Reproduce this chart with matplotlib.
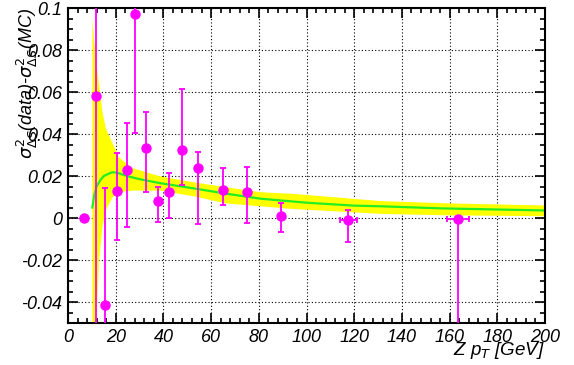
import matplotlib
matplotlib.use('Agg')
import matplotlib.pyplot as plt
import numpy as np
from matplotlib.ticker import MultipleLocator, FormatStrFormatter

plt.rcParams['font.family'] = 'Liberation Sans'
plt.rcParams['axes.unicode_minus'] = False

# measured points
pt_x = [6.5, 11.6, 15.7, 20.5, 24.7, 28.1, 32.6, 37.6, 42.5, 47.6, 54.7, 64.8, 74.9, 89.3, 117.6, 163.5]
pt_y = [0.0, 0.058, -0.0414, 0.013, 0.0229, 0.097, 0.0335, 0.0083, 0.0122, 0.0325, 0.0238, 0.0133, 0.0122, 0.001, -0.001, -0.0005]
err_lo = [0.0, 0.2, 0.1, 0.0235, 0.0273, 0.0564, 0.021, 0.0101, 0.0122, 0.0169, 0.0267, 0.007, 0.0144, 0.0075, 0.0103, 0.1]
err_hi = [0.0, 0.2, 0.0557, 0.018, 0.0225, 0.0564, 0.0171, 0.0066, 0.0091, 0.0291, 0.0078, 0.0107, 0.0119, 0.006, 0.0048, 0.0011]
xerr = [0, 0, 0, 0, 0, 0, 0, 0, 0, 0, 0, 0, 0, 0, 3.4, 4.7]

# fit curve
fit_x = [10.2, 11, 12, 13.5, 15, 18.4, 20.5, 24.7, 30, 38.7, 52.8, 66.8, 80.8, 100, 120, 131, 156.6, 200]
fit_y = [0.005, 0.011, 0.015, 0.018, 0.020, 0.0218, 0.0216, 0.020, 0.0185, 0.0166, 0.0141, 0.0115, 0.0092, 0.0073, 0.0059, 0.0056, 0.0046, 0.0036]

# uncertainty band
band_x = [10, 11.4, 12.8, 14.2, 15.6, 18.4, 21.2, 26.8, 38.7, 52.8, 66, 80.8, 93.5, 131, 160, 200]
band_hi = [0.095, 0.077, 0.064, 0.051, 0.043, 0.036, 0.029, 0.024, 0.020, 0.0172, 0.0149, 0.0125, 0.0118, 0.0083, 0.0072, 0.0062]
band_lo = [-0.06, -0.06, -0.02, -0.004, 0.0038, 0.010, 0.0125, 0.0133, 0.0133, 0.0105, 0.0072, 0.0058, 0.0046, 0.0022, 0.0015, 0.0011]

fig = plt.figure(figsize=(5.74, 3.65), dpi=100)
ax = fig.add_axes([0.1185, 0.115, 0.831, 0.863])

ax.fill_between(band_x, band_lo, band_hi, color='#ffff00', lw=0, zorder=1)
ax.plot(fit_x, fit_y, color='#22ee22', lw=1.6, zorder=2)
ax.errorbar(pt_x, pt_y, yerr=[err_lo, err_hi], xerr=xerr, fmt='o', color='#ff00ff',
            ms=6.5, elinewidth=1.3, capsize=2, capthick=1.3, zorder=3)

ax.set_xlim(0, 200)
ax.set_ylim(-0.05, 0.1)
ax.xaxis.set_major_locator(MultipleLocator(20))
ax.xaxis.set_minor_locator(MultipleLocator(4))
ax.yaxis.set_major_locator(MultipleLocator(0.02))
ax.yaxis.set_minor_locator(MultipleLocator(0.005))
ax.yaxis.set_major_formatter(FormatStrFormatter('%g'))
ax.grid(True, which='major', color='black', ls=(0, (1, 2)), lw=0.8)
ax.set_axisbelow(True)

ax.tick_params(which='both', direction='in', top=True, right=True, width=1.2)
ax.tick_params(which='major', length=7, labelsize=13, pad=4)
ax.tick_params(which='minor', length=3.5)
for lbl in ax.get_xticklabels() + ax.get_yticklabels():
    lbl.set_fontstyle('italic')
for s in ax.spines.values():
    s.set_linewidth(1.5)

fig.text(0.949, 0.04, r'Z p$_{T}$ [GeV]', ha='right', va='center', fontsize=13.5, style='italic')
fig.text(0.048, 0.978, r'$\sigma^{2}_{\Delta S}$(data)-$\sigma^{2}_{\Delta S}$(MC)', rotation=90,
         ha='center', va='top', fontsize=13, style='italic')

fig.savefig('out.png', dpi=100)
